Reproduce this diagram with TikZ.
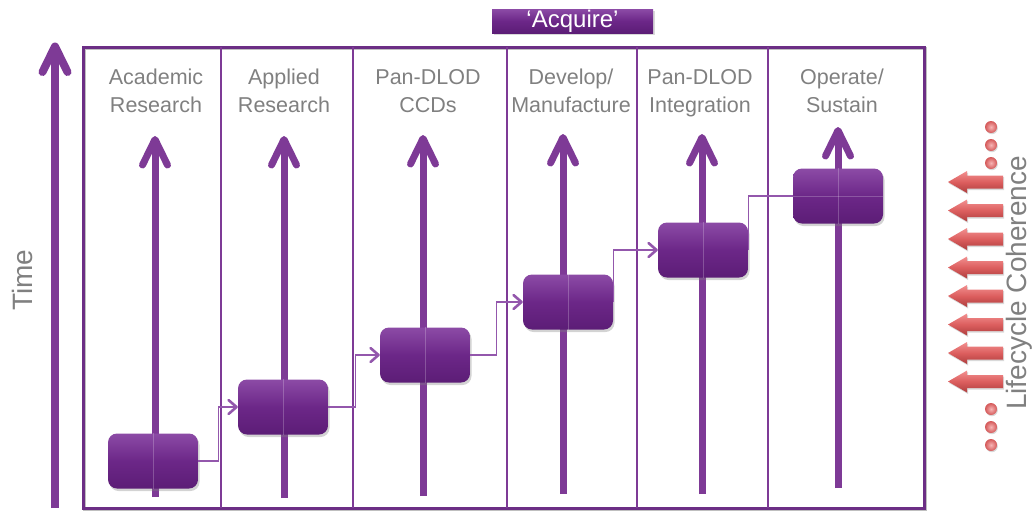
\documentclass[tikz,border=0pt]{standalone}
\usepackage{fontspec}
\setmainfont{Liberation Sans}
\usetikzlibrary{arrows.meta,shadows}
\definecolor{pmain}{HTML}{7E3A96}
\definecolor{pframe}{HTML}{6C2E85}
\definecolor{plight}{HTML}{9357AC}
\definecolor{boxtop}{HTML}{8C4BA6}
\definecolor{boxmid}{HTML}{6C2788}
\definecolor{boxbot}{HTML}{5C1D76}
\definecolor{hgray}{HTML}{808080}
\definecolor{rtop}{HTML}{F29090}
\definecolor{rmid}{HTML}{DC5E5E}
\definecolor{rbot}{HTML}{AE3E3E}
\definecolor{dotin}{HTML}{F7B5B5}
\definecolor{dotout}{HTML}{D45858}
\newcommand{\colarrow}[4]{% x, tip y, bottom y, width
  \draw[axisline, line width=#4, line cap=butt] (#1,#3) -- (#1,{#2+8});
  \draw[axisline, line width=#4] ({#1-12.5},{#2+29}) -- (#1,{#2+3.5}) -- ({#1+12.5},{#2+29});
}
\newcommand{\redarrow}[1]{%
  \path[redarr] (948,#1) -- (967,{#1-11}) -- (967,{#1-6.5}) -- (1003,{#1-6.5}) -- (1003,{#1+6.5}) -- (967,{#1+6.5}) -- (967,{#1+11}) -- cycle;
}
\begin{document}
\begin{tikzpicture}[x=1pt,y=-1pt,
  hdr/.style={text=hgray, align=center, font=\fontsize{21.5}{28}\selectfont, inner sep=0pt, anchor=north},
  sidetext/.style={rotate=90, anchor=base west, inner sep=0pt, text=hgray, font=\fontsize{28}{28}\selectfont},
  stagebox/.style={rounded corners=9pt, minimum width=90pt, minimum height=55pt, inner sep=0pt,
    top color=boxtop, bottom color=boxbot, middle color=boxmid,
    drop shadow={shadow xshift=1.5pt, shadow yshift=-2.5pt, opacity=0.35}},
  acqbox/.style={minimum width=161pt, minimum height=24pt, inner sep=0pt,
    top color=boxtop, bottom color=boxbot, middle color=boxmid, text=white,
    font=\fontsize{24}{24}\selectfont,
    drop shadow={shadow xshift=1.5pt, shadow yshift=-2pt, opacity=0.3}},
  conn/.style={draw=plight, line width=1.4pt},
  connhead/.style={conn, -{Straight Barb[length=8pt,width=14pt,line width=2.6pt,round]}},
  axisline/.style={draw=pmain, line cap=round, line join=round},
  divider/.style={draw=pmain, line width=2pt},
  redarr/.style={top color=rtop, bottom color=rbot, middle color=rmid,
    drop shadow={shadow xshift=1pt, shadow yshift=-1.5pt, opacity=0.3}},
  reddot/.style={inner color=dotin, outer color=dotout,
    drop shadow={shadow xshift=0.8pt, shadow yshift=-1.2pt, opacity=0.3}},
  faint/.style={draw=white, opacity=0.22, line width=0.8pt},
]
\useasboundingbox (0,0) rectangle (1033,512);

% frame and column dividers
\draw[black, opacity=0.25, line width=3pt] (84.5,48.5) rectangle (925.5,509.5);
\draw[pframe, line width=3pt] (83,47) rectangle (924,508);
\foreach \xx in {221,353,507,637,768} \draw[divider] (\xx,47) -- (\xx,508);

% Acquire label
\node[acqbox] (acq) at (572.5,21) {‘Acquire’};

% headers
\node[hdr] (h1) at (156,69) {Academic\\Research};
\node[hdr] (h2) at (284,69) {Applied\\Research};
\node[hdr] (h3) at (428,69) {Pan-DLOD\\CCDs};
\node[hdr] (h4) at (571,69) {Develop/\\Manufacture};
\node[hdr] (h5) at (700,69) {Pan-DLOD\\Integration};
\node[hdr] (h6) at (842,69) {Operate/\\Sustain};

% time axis
\colarrow{55}{43}{508}{8pt}
\node[sidetext] (time) at (32,311) {Time};

% column arrows
\colarrow{155}{136}{497}{7pt}
\colarrow{284}{136}{498}{7pt}
\colarrow{423}{135}{496}{7pt}
\colarrow{563}{134}{494}{7pt}
\colarrow{702}{134}{494}{7pt}
\colarrow{838}{127}{488}{7pt}

% stage boxes
\node[stagebox] (b1) at (153,461) {};
\node[stagebox] (b2) at (283,407) {};
\node[stagebox] (b3) at (425,355) {};
\node[stagebox] (b4) at (568,302) {};
\node[stagebox] (b5) at (703,250) {};
\node[stagebox] (b6) at (838,196) {};
\foreach \b in {b1,b2,b3,b4,b5,b6} \draw[faint] (\b.north) -- (\b.south);
\draw[faint] (b6.west) -- (b6.east);

% connectors
\draw[connhead] (b1.east) -- ++(20,0) |- (b2.west);
\draw[connhead] (b2.east) -- ++(27,0) |- (b3.west);
\draw[connhead] (b3.east) -- ++(26,0) |- (b4.west);
\draw[connhead] (b4.east) |- (b5.west);
\draw[conn] (b5.east) |- (b6.west);

% lifecycle coherence
\foreach \i in {0,...,7} {\pgfmathsetmacro\yy{182+28.5*\i}\redarrow{\yy}}
\foreach \yy in {127,145,163,409,427,445} \path[reddot] (991,\yy) circle (6pt);
\node[sidetext] (lc) at (1026,410) {Lifecycle Coherence};
\end{tikzpicture}
\end{document}
